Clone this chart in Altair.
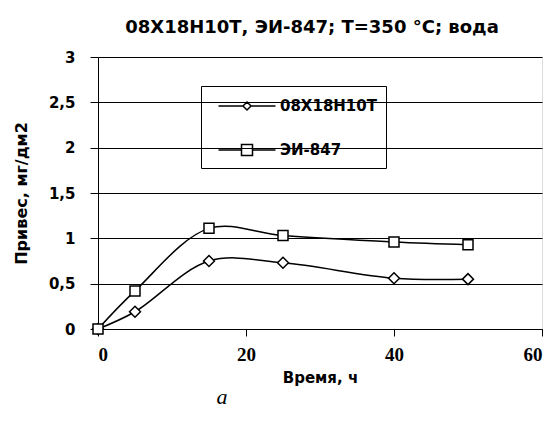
import altair as alt
import pandas as pd

series_names = ["08Х18Н10Т", "ЭИ-847"]
time_h = [0, 5, 15, 25, 40, 50]
gain_a = [0.0, 0.19, 0.75, 0.73, 0.56, 0.55]
gain_b = [0.0, 0.42, 1.11, 1.03, 0.96, 0.93]
y_ticks = [0, 0.5, 1, 1.5, 2, 2.5, 3]
x_ticks = [0, 20, 40, 60]

rows = []
for s, vals in zip(series_names, [gain_a, gain_b]):
    for t, v in zip(time_h, vals):
        rows.append({"series": s, "time": t, "value": v})
df = pd.DataFrame(rows)

SANS = "DejaVu Sans"
SERIF = "Liberation Serif"

dia_path = "M-2.85,0H-0.4M0.4,0H2.85M0,-0.4L0.4,0L0,0.4L-0.4,0Z"
sq_path = "M-2.85,0H-0.55M0.55,0H2.85M-0.55,-0.55H0.55V0.55H-0.55Z"

x_enc = alt.X(
    "time:Q",
    scale=alt.Scale(domain=[0, 60], nice=False),
    axis=alt.Axis(
        values=x_ticks, grid=False, tickSize=7, tickColor="black", domainColor="black",
        labelFont=SERIF, labelFontSize=19, labelFontWeight="bold", labelColor="black",
        labelPadding=9, title="Время, ч", titleFont=SANS, titleFontSize=15,
        titleFontWeight="bold", titleColor="black", titlePadding=6,
    ),
)
y_enc = alt.Y(
    "value:Q",
    scale=alt.Scale(domain=[0, 3], nice=False),
    axis=alt.Axis(
        values=y_ticks, grid=True, gridColor="black", gridOpacity=1, tickSize=8,
        tickColor="black", domainColor="black",
        labelExpr="replace(format(datum.value, ''), '.', ',')",
        labelFont=SANS, labelFontSize=15, labelFontWeight="bold", labelColor="black",
        labelPadding=15, title="Привес, мг/дм2", titleFont=SANS, titleFontSize=16,
        titleFontWeight="bold", titleColor="black", titlePadding=19,
    ),
)

base = alt.Chart(df)

lines = base.mark_line(interpolate="catmull-rom", color="black", strokeWidth=1.5).encode(
    x=x_enc, y=y_enc, detail="series:N"
)

points = base.mark_point(filled=True, fill="white", stroke="black", strokeWidth=1.5, opacity=1).encode(
    x="time:Q",
    y="value:Q",
    shape=alt.Shape(
        "series:N",
        scale=alt.Scale(domain=series_names, range=["diamond", "square"]),
        legend=None,
    ),
    size=alt.Size(
        "series:N",
        scale=alt.Scale(domain=series_names, range=[120, 100]),
        legend=None,
    ),
)

legend_layer = base.transform_filter("false").mark_point(
    filled=False, color="black", strokeWidth=1.5, opacity=1
).encode(
    x="time:Q",
    y="value:Q",
    shape=alt.Shape(
        "series:N",
        scale=alt.Scale(domain=series_names, range=[dia_path, sq_path]),
        legend=alt.Legend(
            orient="none", legendX=103, legendY=29, title=None,
            strokeColor="black", padding=9, symbolSize=400, symbolOffset=26,
            labelOffset=22, rowPadding=25, labelFont=SANS, labelFontSize=15,
            labelFontWeight="bold", labelColor="black", symbolOpacity=1,
            symbolStrokeColor="black", symbolFillColor="white", symbolStrokeWidth=1.5,
        ),
    ),
)

caption = alt.Chart(pd.DataFrame({"t": ["а"]})).mark_text(
    font=SERIF, fontSize=22, fontStyle="italic", color="black"
).encode(text="t:N", x=alt.value(124), y=alt.value(340))

chart = alt.layer(lines, points, legend_layer, caption).resolve_scale(
    shape="independent", size="independent"
).properties(
    width=444, height=272,
    title=alt.TitleParams(
        "08Х18Н10Т, ЭИ-847; Т=350 °С; вода", font=SANS, fontSize=18,
        fontWeight="bold", color="black", offset=13, anchor="middle", dx=-8,
    ),
    autosize=alt.AutoSizeParams(type="none"),
    padding={"left": 90, "top": 49, "right": 2, "bottom": 85},
).configure_view(stroke="black", strokeWidth=1).configure(background="white")

chart.save("out.html", embed_options={"renderer": "svg", "actions": False})
